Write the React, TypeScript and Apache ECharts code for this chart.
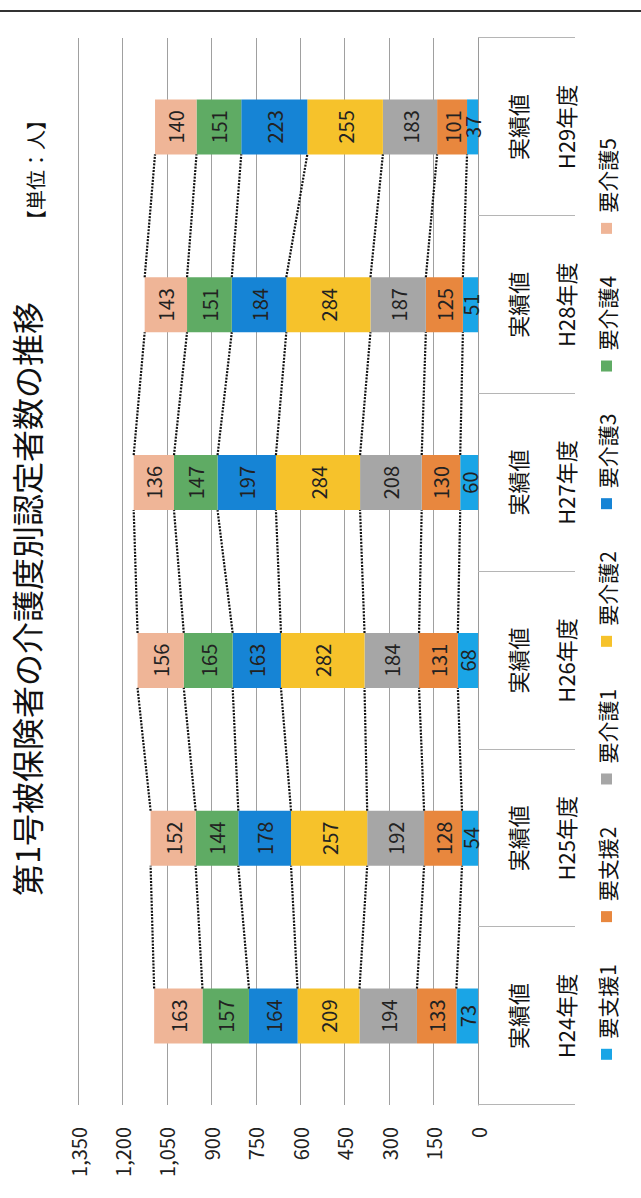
import React, { useEffect, useRef } from "react";
import * as echarts from "echarts";

// ---- data ----
const categories = ["H24年度", "H25年度", "H26年度", "H27年度", "H28年度", "H29年度"];
const subLabel = "実績値";
const seriesNames = ["要支援1", "要支援2", "要介護1", "要介護2", "要介護3", "要介護4", "要介護5"];
const shien1 = [73, 54, 68, 60, 51, 37];
const shien2 = [133, 128, 131, 130, 125, 101];
const kaigo1 = [194, 192, 184, 208, 187, 183];
const kaigo2 = [209, 257, 282, 284, 284, 255];
const kaigo3 = [164, 178, 163, 197, 184, 223];
const kaigo4 = [157, 144, 165, 147, 151, 151];
const kaigo5 = [163, 152, 156, 136, 143, 140];
const valueMin = 0;
const valueMax = 1350;
const valueStep = 150;
const titleText = "第1号被保険者の介護度別認定者数の推移";
const unitText = "【単位：人】";

const seriesValues = [shien1, shien2, kaigo1, kaigo2, kaigo3, kaigo4, kaigo5];
const colors = ["#1aa5e6", "#e8873e", "#a6a6a6", "#f6c22b", "#1684d5", "#5fab64", "#efb597"];

const NATIVE_W = 1198;
const NATIVE_H = 641;
const BAR_W = 55;
const FONT = "'Noto Sans CJK JP', 'Noto Sans', sans-serif";

// cumulative tops per category
const cumulative: number[][] = categories.map((_, ci) => {
  let s = 0;
  return seriesValues.map((arr) => {
    s += arr[ci];
    return s;
  });
});

export default function App() {
  const ref = useRef<HTMLDivElement>(null);

  useEffect(() => {
    if (!ref.current) return;
    const chart = echarts.init(ref.current, undefined, { renderer: "svg" });

    const barSeries = seriesNames.map((name, i) => ({
      name,
      type: "bar",
      stack: "total",
      barWidth: BAR_W,
      data: seriesValues[i],
      itemStyle: { color: colors[i] },
      label: {
        show: true,
        position: "inside",
        fontSize: 20,
        color: "#222",
        fontFamily: FONT,
      },
    }));

    const connectorSeries = {
      type: "custom",
      silent: true,
      z: 5,
      data: categories.slice(0, -1).map((_, i) => [i, 0]),
      encode: { x: 0, y: 1 },
      renderItem: (params: any, api: any) => {
        const i = params.dataIndex;
        const children: any[] = [];
        for (let k = 0; k < seriesNames.length; k++) {
          const p1 = api.coord([i, cumulative[i][k]]);
          const p2 = api.coord([i + 1, cumulative[i + 1][k]]);
          children.push({
            type: "line",
            shape: { x1: p1[0] + BAR_W / 2, y1: p1[1], x2: p2[0] - BAR_W / 2, y2: p2[1] },
            style: { stroke: "#111", lineWidth: 2.2, lineDash: [2, 1.3] },
          });
        }
        return { type: "group", children };
      },
    };

    chart.setOption({
      animation: false,
      backgroundColor: "#ffffff",
      textStyle: { fontFamily: FONT },
      title: [
        {
          text: titleText,
          left: "center",
          top: 10,
          padding: 0,
          textStyle: { fontSize: 32, fontWeight: "normal", color: "#111", fontFamily: FONT },
        },
        {
          text: unitText,
          right: 110,
          top: 25,
          padding: 0,
          textStyle: { fontSize: 20, fontWeight: "normal", color: "#111", fontFamily: FONT },
        },
      ],
      legend: {
        data: seriesNames,
        left: "center",
        top: 591,
        icon: "rect",
        itemWidth: 11,
        itemHeight: 11,
        itemGap: 42,
        textStyle: { fontSize: 21, color: "#111", fontFamily: FONT, padding: [0, 0, 0, 5] },
      },
      grid: { left: 93, right: 38, top: 78, bottom: 163, containLabel: false },
      xAxis: {
        type: "category",
        data: categories,
        axisLine: { show: true, lineStyle: { color: "#9a9a9a", width: 1 } },
        axisTick: { show: true, length: 97, lineStyle: { color: "#b5b5b5", width: 1 } },
        axisLabel: {
          interval: 0,
          margin: 15,
          fontSize: 22,
          lineHeight: 48,
          color: "#111",
          fontFamily: FONT,
          formatter: (v: string) => subLabel + "\n" + v,
        },
      },
      yAxis: {
        type: "value",
        min: valueMin,
        max: valueMax,
        interval: valueStep,
        axisLine: { show: false },
        axisTick: { show: false },
        splitLine: { lineStyle: { color: "#a0a0a0", width: 1 } },
        axisLabel: {
          margin: 22,
          fontSize: 20,
          color: "#222",
          fontFamily: FONT,
          formatter: (v: number) => v.toLocaleString("en-US"),
        },
      },
      graphic: [
        {
          type: "line",
          shape: { x1: 1187, y1: 0, x2: 1187, y2: NATIVE_H },
          style: { stroke: "#333", lineWidth: 2 },
        },
      ],
      series: [...barSeries, connectorSeries],
    });

    return () => chart.dispose();
  }, []);

  return (
    <div
      style={{
        position: "fixed",
        left: 0,
        top: 0,
        width: NATIVE_H,
        height: NATIVE_W,
        overflow: "hidden",
        background: "#fff",
      }}
    >
      <div
        style={{
          position: "absolute",
          left: 0,
          top: 0,
          width: NATIVE_W,
          height: NATIVE_H,
          transformOrigin: "0 0",
          transform: `translateY(${NATIVE_W}px) rotate(-90deg)`,
        }}
      >
        <div ref={ref} style={{ width: NATIVE_W, height: NATIVE_H }} />
      </div>
    </div>
  );
}
